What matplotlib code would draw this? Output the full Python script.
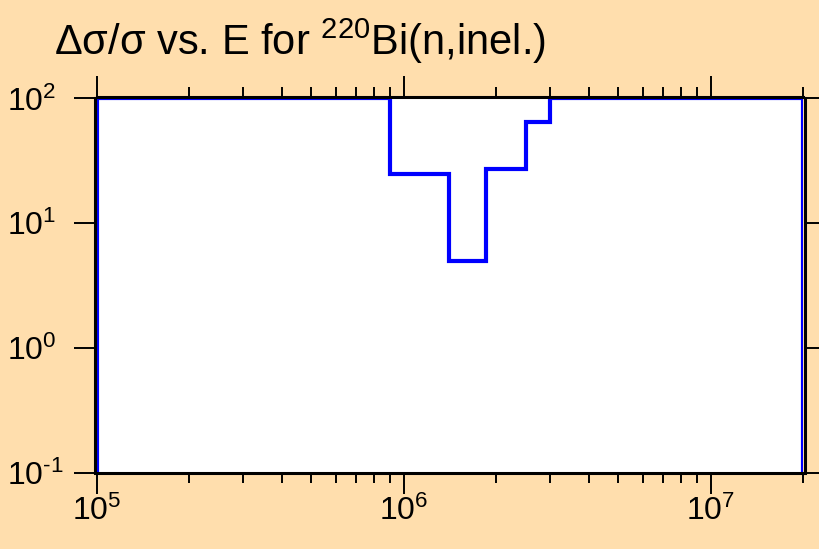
import matplotlib
matplotlib.use("Agg")
import matplotlib.pyplot as plt
from matplotlib.ticker import NullLocator, FuncFormatter
import numpy as np

plt.rcParams['font.family'] = ['Liberation Sans', 'DejaVu Sans']
plt.rcParams['mathtext.fontset'] = 'custom'
plt.rcParams['mathtext.rm'] = 'Liberation Sans'
plt.rcParams['mathtext.it'] = 'Liberation Sans'

# bin edges (eV) and relative uncertainty (%)
edges = [1e5, 9.0e5, 1.4e6, 1.85e6, 2.5e6, 3.0e6, 2e7]
rel_unc = [100, 25, 5, 27, 65, 100]

BG = '#ffdead'


def pow10(v, pos):
    e = int(round(np.log10(v)))
    if e < 0:
        return r'$\mathdefault{10^{\text{-}%d}}$' % -e
    return r'$\mathdefault{10^{%d}}$' % e


fig = plt.figure(figsize=(8.2, 5.49), dpi=100, facecolor=BG)
ax = fig.add_axes([0.1183, 0.1384, 0.8610, 0.6823])
ax.set_facecolor('white')

ax.stairs(rel_unc, edges, baseline=0.1, color='#0000ff', lw=3.0, zorder=3)

ax.set_xscale('log')
ax.set_yscale('log')
ax.set_xlim(1e5, 2e7)
ax.set_ylim(0.1, 100)
ax.yaxis.set_minor_locator(NullLocator())
ax.xaxis.set_major_formatter(FuncFormatter(pow10))
ax.yaxis.set_major_formatter(FuncFormatter(pow10))

ax.tick_params(which='major', direction='out', length=15, width=1.4,
               labelsize=23, top=True, right=True)
ax.tick_params(which='minor', direction='out', length=7, width=1.4, top=True)
ax.tick_params(axis='x', which='major', pad=1)
ax.tick_params(axis='y', which='major', pad=49)

for name, s in ax.spines.items():
    s.set_linewidth(2.2)
    s.set_zorder(4)
    if name != 'bottom':
        s.set_position(('outward', 1.1))

fig.text(0.066, 0.8998, 'Δσ/σ vs. E for $^{220}$Bi(n,inel.)',
         fontsize=30, ha='left', va='baseline')

# left-align the y labels (ticks exist only after a draw)
fig.canvas.draw()
for t in ax.yaxis.get_major_ticks():
    t.label1.set_horizontalalignment('left')

fig.savefig('out.png', dpi=100, facecolor=BG)
